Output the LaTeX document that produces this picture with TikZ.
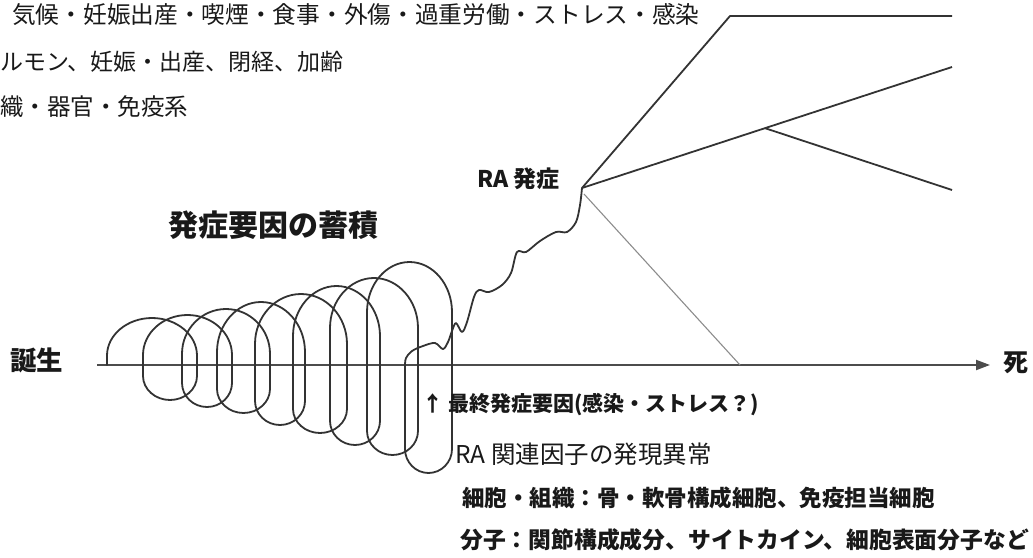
\documentclass[tikz,border=0pt]{standalone}
\usepackage{fontspec}
\setmainfont{Noto Sans CJK JP}
\usetikzlibrary{arrows.meta,calc}
\begin{document}
\begin{tikzpicture}[x=1pt,y=-1pt,
  coil/.style={draw=black!80,line width=1.8pt,line join=round,line cap=round},
  branch/.style={draw=black!80,line width=1.8pt,line join=round},
  greyline/.style={draw=black!45,line width=1.1pt},
  axisline/.style={draw=black!70,line width=2pt},
  txt/.style={inner sep=0pt,anchor=west,text=black!90},
  fs/.style={font=\fontsize{#1}{#1}\selectfont},
  fsb/.style={font=\fontsize{#1}{#1}\selectfont\bfseries}]
\path[use as bounding box] (0,0) rectangle (1033,557);

% axis
\coordinate (ax0) at (97,365);
\coordinate (ax1) at (990,365);
\draw[axisline,-{Triangle[length=14pt,width=10pt]}] (ax0) -- (ax1);

% coil
\foreach \la/\ra/\ta/\ba/\na in {107/197/318/400/143, 143/232/315/407/182, 182/270/309/413/217, 217/305/302/425/255, 255/347/294/433/293, 293/380/286/445/330, 330/418/278/455/367, 367/452/262/473/405}{
  \pgfmathsetmacro\hh{365-\ta}
  \pgfmathsetmacro\kk{min(0.8*\hh,50)}
  \pgfmathsetmacro\xm{(\la+\ra)/2}
  \pgfmathsetmacro\hw{(\ra-\la)/2}
  \pgfmathsetmacro\dd{\ba-365}
  \pgfmathsetmacro\kb{min(0.8*\dd,24)}
  \pgfmathsetmacro\xb{(\ra+\na)/2}
  \pgfmathsetmacro\hwb{(\ra-\na)/2}
  \draw[coil] (\la,365) -- (\la,\ta+\kk)
    .. controls (\la,\ta+0.45*\kk) and (\xm-0.55*\hw,\ta) .. (\xm,\ta)
    .. controls (\xm+0.55*\hw,\ta) and (\ra,\ta+0.45*\kk) .. (\ra,\ta+\kk)
    -- (\ra,\ba-\kb)
    .. controls (\ra,\ba-0.45*\kb) and (\xb+0.55*\hwb,\ba) .. (\xb,\ba)
    .. controls (\xb-0.55*\hwb,\ba) and (\na,\ba-0.45*\kb) .. (\na,\ba-\kb)
    -- (\na,365);
}

% onset point
\coordinate (P) at (582,188);
% wavy line from the last loop up to onset
\draw[coil] plot[smooth,tension=0.55] coordinates {(405,366) (406,358) (412,351) (423,346) (435,343) (443,349) (448,342) (452,331) (456,323) (462,332) (467,322) (474,297) (479,290) (489,292) (502,285) (511,273) (517,252) (526,252) (540,241) (556,232) (567,232) (576,222) (580,205) (582,188)};

% branches
\coordinate (Pt) at (730,16);
\coordinate (Pte) at (952,16);
\coordinate (Pm) at (952,67);
\coordinate (Q) at ($(P)!0.4946!(Pm)$);
\coordinate (Qe) at (952,190);
\coordinate (Pg) at (584,194);
\coordinate (Ag) at (740,365);
\draw[branch] (P) -- (Pt) -- (Pte);
\draw[branch] (P) -- (Pm);
\draw[branch] (Q) -- (Qe);
\draw[greyline] (Pg) -- (Ag);

% texts
\node[txt,fs=23.7] (t1) at (12,15) {気候・妊娠出産・喫煙・食事・外傷・過重労働・ストレス・感染};
\node[txt,fs=23] (t2) at (0,62) {ルモン、妊娠・出産、閉経、加齢};
\node[txt,fs=23.5] (t3) at (0,107) {織・器官・免疫系};
\node[txt,fsb=23] (ra) at (477,179) {RA 発症};
\node[inner sep=0pt,text=black!90,fsb=30] (acc) at (273,225) {発症要因の蓄積};
\node[txt,fsb=26.5] (birth) at (10,360) {誕生};
\node[txt,fsb=25] (death) at (1003,363) {死};
\node[txt,fsb=21] (b1) at (422,405) {↑ 最終発症要因(感染・ストレス？)};
\node[txt,fs=24.5] (b2) at (455,454) {RA 関連因子の発現異常};
\node[txt,fsb=22.5] (b3) at (462,498) {細胞・組織：骨・軟骨構成細胞、免疫担当細胞};
\node[txt,fsb=22.8] (b4) at (460,540) {分子：関節構成成分、サイトカイン、細胞表面分子など};
\end{tikzpicture}
\end{document}
